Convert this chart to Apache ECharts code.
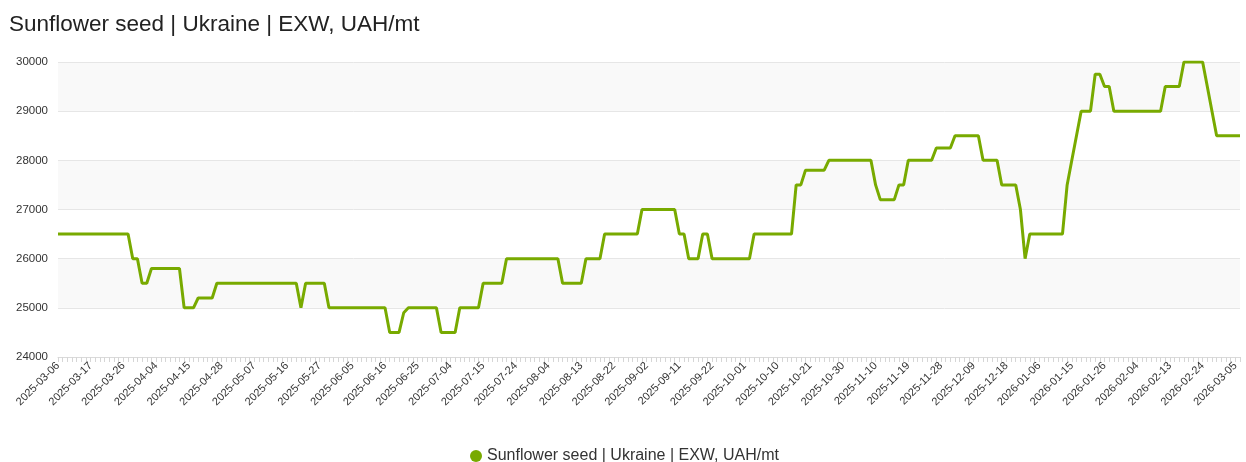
<!DOCTYPE html>
<html>
<head>
<meta charset="utf-8">
<script src="https://cdn.jsdelivr.net/npm/echarts@6.0.0/dist/echarts.min.js"></script>
<style>
  html, body { margin: 0; padding: 0; background: #fff; }
  #chart { width: 1246px; height: 462px; }
</style>
</head>
<body>
<div id="chart"></div>
<script>
// data
var seriesName = 'Sunflower seed | Ukraine | EXW, UAH/mt';
var firstDay = '2025-03-06';
var lastDay = '2026-03-06';
// days with no quote (trading holidays)
var skipDays = ['2025-04-18', '2025-04-21', '2025-12-24', '2025-12-25', '2025-12-26',
    '2025-12-31', '2026-01-01', '2026-01-02'];
var yTicks = [24000, 25000, 26000, 27000, 28000, 29000, 30000];

var prices = [
    26500, 26500, 26500, 26500, 26500, 26500, 26500, 26500, 26500, 26500, 26500, 26500, 26500, 26500, 26500, 26500,
    26000, 26000, 25500, 25500,
    25800, 25800, 25800, 25800, 25800, 25800, 25800,
    25000, 25000, 25000, 25200, 25200, 25200, 25200,
    25500, 25500, 25500, 25500, 25500, 25500, 25500, 25500, 25500, 25500, 25500, 25500, 25500, 25500, 25500, 25500, 25500, 25500,
    25000, 25500, 25500, 25500, 25500, 25500,
    25000, 25000, 25000, 25000, 25000, 25000, 25000, 25000, 25000, 25000, 25000, 25000, 25000,
    24500, 24500, 24500, 24900,
    25000, 25000, 25000, 25000, 25000, 25000, 25000,
    24500, 24500, 24500, 24500,
    25000, 25000, 25000, 25000, 25000,
    25500, 25500, 25500, 25500, 25500,
    26000, 26000, 26000, 26000, 26000, 26000, 26000, 26000, 26000, 26000, 26000, 26000,
    25500, 25500, 25500, 25500, 25500,
    26000, 26000, 26000, 26000,
    26500, 26500, 26500, 26500, 26500, 26500, 26500, 26500,
    27000, 27000, 27000, 27000, 27000, 27000, 27000, 27000,
    26500, 26500, 26000, 26000, 26000, 26500, 26500,
    26000, 26000, 26000, 26000, 26000, 26000, 26000, 26000, 26000,
    26500, 26500, 26500, 26500, 26500, 26500, 26500, 26500, 26500,
    27500, 27500, 27800, 27800, 27800, 27800, 27800,
    28000, 28000, 28000, 28000, 28000, 28000, 28000, 28000, 28000, 28000,
    27500, 27200, 27200, 27200, 27200, 27500, 27500,
    28000, 28000, 28000, 28000, 28000, 28000,
    28250, 28250, 28250, 28250,
    28500, 28500, 28500, 28500, 28500, 28500,
    28000, 28000, 28000, 28000,
    27500, 27500, 27500, 27500,
    27000, 26000,
    26500, 26500, 26500, 26500, 26500, 26500, 26500, 26500,
    27500, 28000, 28500,
    29000, 29000, 29000, 29750, 29750, 29500, 29500,
    29000, 29000, 29000, 29000, 29000, 29000, 29000, 29000, 29000, 29000, 29000,
    29500, 29500, 29500, 29500,
    30000, 30000, 30000, 30000, 30000,
    29500, 29000,
    28500, 28500, 28500, 28500, 28500, 28500
];

// weekdays between two dates, minus the skipped ones
function tradingDays(from, to, skip) {
    var out = [];
    var d = new Date(from + 'T00:00:00Z');
    var end = new Date(to + 'T00:00:00Z');
    while (d <= end) {
        var wd = d.getUTCDay();
        var s = d.toISOString().slice(0, 10);
        if (wd !== 0 && wd !== 6 && skip.indexOf(s) < 0) out.push(s);
        d.setUTCDate(d.getUTCDate() + 1);
    }
    return out;
}
var dates = tradingDays(firstDay, lastDay, skipDays);

var font = '"Liberation Sans", Arial, sans-serif';
var mychart = echarts.init(document.getElementById('chart'));
var option = {
    backgroundColor: '#ffffff',
    animation: false,
    textStyle: { fontFamily: font },
    title: {
        text: seriesName,
        left: 4,
        top: 8,
        textStyle: { fontFamily: font, fontSize: 22.5, fontWeight: 'normal', color: '#222' }
    },
    legend: {
        data: [seriesName],
        left: 465,
        top: 443,
        icon: 'circle',
        itemWidth: 12,
        itemHeight: 12,
        textStyle: { fontFamily: font, fontSize: 16, color: '#333' }
    },
    grid: { left: 58, right: 6, top: 62, bottom: 105 },
    xAxis: {
        type: 'category',
        data: dates,
        boundaryGap: false,
        axisLine: { lineStyle: { color: '#dadada', width: 1 } },
        axisTick: { interval: 0, length: 5, lineStyle: { color: '#d6d6d6' } },
        axisLabel: {
            interval: 6,
            rotate: 45,
            margin: 7,
            fontSize: 11,
            color: '#333',
            fontFamily: font
        },
        splitLine: { show: false }
    },
    yAxis: {
        type: 'value',
        min: yTicks[0],
        max: yTicks[yTicks.length - 1],
        interval: 1000,
        axisLine: { show: false },
        axisTick: { show: false },
        axisLabel: {
            fontSize: 11.5,
            color: '#333',
            margin: 10,
            fontFamily: font,
            formatter: function (v) { return String(v); }
        },
        splitLine: { lineStyle: { color: '#e6e6e6', width: 1 } },
        splitArea: { show: true, areaStyle: { color: ['#ffffff', '#f9f9f9'] } }
    },
    series: [
        {
            name: seriesName,
            type: 'line',
            data: prices,
            showSymbol: false,
            symbol: 'circle',
            color: '#78aa00',
            lineStyle: { width: 3, color: '#78aa00' }
        }
    ]
};
mychart.setOption(option);
</script>
</body>
</html>
